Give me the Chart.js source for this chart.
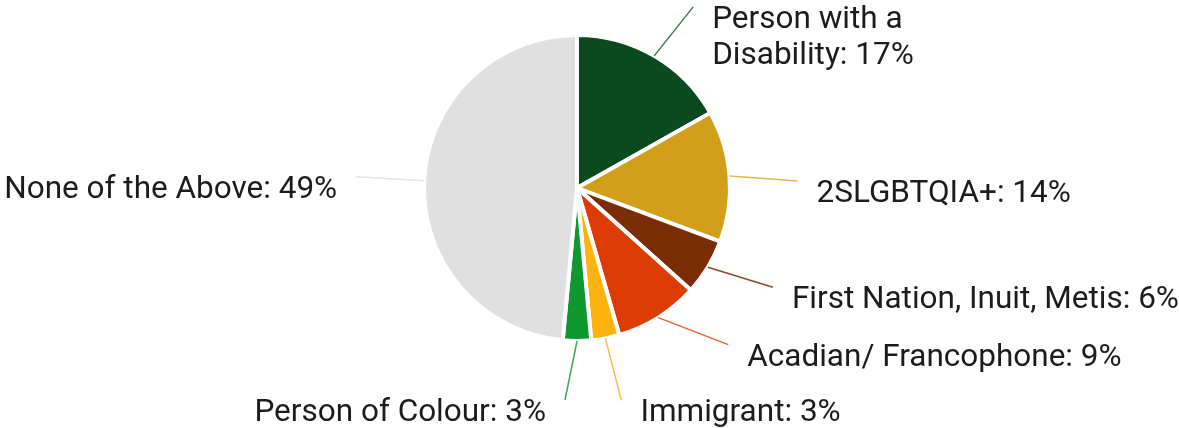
<!DOCTYPE html>
<html>
<head>
<meta charset="utf-8">
<script src="https://cdn.jsdelivr.net/npm/chart.js@4/dist/chart.umd.min.js"></script>
<style>
  body { margin: 0; background: #fff; }
  #wrap { width: 1179px; height: 428px; position: relative; }
</style>
</head>
<body>
<div id="wrap"><canvas id="pieChart"></canvas></div>
<script>
// Survey groups, clockwise from the top
const groups = [
    ['Person with a', 'Disability'],
    ['2SLGBTQIA+'],
    ['First Nation, Inuit, Metis'],
    ['Acadian/ Francophone'],
    ['Immigrant'],
    ['Person of Colour'],
    ['None of the Above']
];
const percents = [17, 14, 6, 9, 3, 3, 49];
const sliceColors = ['#0b4a1f', '#d29f1a', '#7a2d05', '#dc3b04', '#fdb30e', '#0f9830', '#e0e0e0'];
const lineColors = ['#3f7a4f', '#e0b850', '#8a4a2a', '#e8643a', '#fcc040', '#3aac55', '#e4e4e4'];

// where each leader line ends, relative to the slice's outer edge
const leaderOffsets = [[39, -49], [68, 5], [65, 20], [70, 27], [16, 62], [-12, 59], [-68, -4]];

// leader lines + labels drawn beside the pie
const pieLabels = {
    id: 'pieLabels',
    afterDraw(chart) {
        const ctx = chart.ctx;
        const arcs = chart.getDatasetMeta(0).data;
        ctx.save();
        ctx.font = '31.5px Roboto';
        ctx.fillStyle = '#1c1c1c';
        ctx.textBaseline = 'alphabetic';
        arcs.forEach((arc, i) => {
            const p = arc.getProps(['x', 'y', 'startAngle', 'endAngle', 'outerRadius']);
            const mid = (p.startAngle + p.endAngle) / 2;
            const sx = p.x + Math.cos(mid) * p.outerRadius;
            const sy = p.y + Math.sin(mid) * p.outerRadius;
            const ex = sx + leaderOffsets[i][0];
            const ey = sy + leaderOffsets[i][1];

            ctx.strokeStyle = lineColors[i];
            ctx.lineWidth = 1.5;
            ctx.beginPath();
            ctx.moveTo(sx, sy);
            ctx.lineTo(ex, ey);
            ctx.stroke();

            const right = leaderOffsets[i][0] >= 0;
            ctx.textAlign = right ? 'left' : 'right';
            const tx = right ? ex + 19 : ex - 19;
            const lines = groups[i].slice();
            lines[lines.length - 1] += ': ' + percents[i] + '%';
            lines.forEach((txt, k) => {
                ctx.fillText(txt, tx, ey + 21 + k * 36);
            });
        });
        ctx.restore();
    }
};

new Chart(document.getElementById('pieChart'), {
    type: 'pie',
    data: {
        labels: groups.map(g => g.join(' ')),
        datasets: [{
            data: percents,
            backgroundColor: sliceColors,
            borderColor: '#ffffff',
            borderWidth: 4,
            hoverOffset: 0
        }]
    },
    options: {
        responsive: true,
        maintainAspectRatio: false,
        animation: false,
        radius: 153,
        layout: { padding: { left: 0, right: 25, top: 0, bottom: 52 } },
        plugins: {
            legend: { display: false },
            tooltip: { enabled: false }
        }
    },
    plugins: [pieLabels]
});
</script>
</body>
</html>
